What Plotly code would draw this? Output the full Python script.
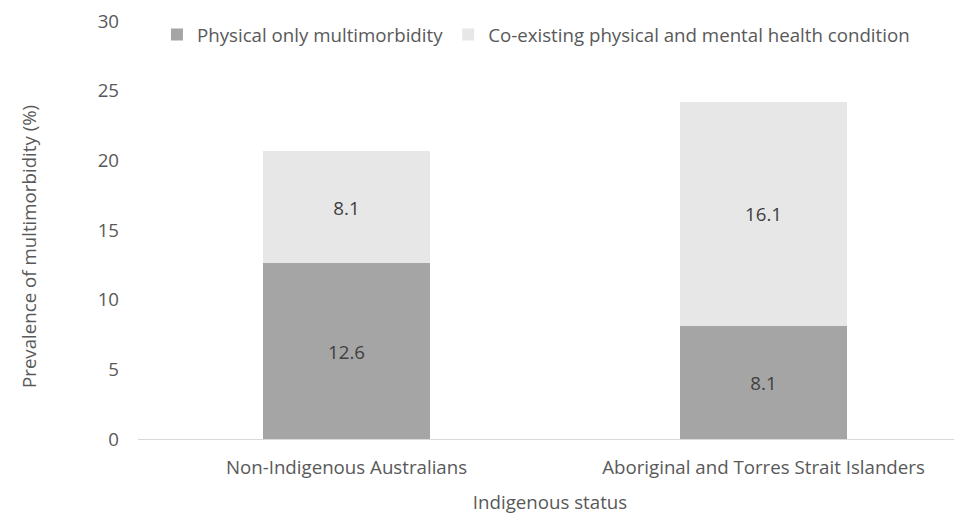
import plotly.graph_objects as go

categories = ["Non-Indigenous Australians", "Aboriginal and Torres Strait Islanders"]
physical_only = [12.6, 8.1]
coexisting = [8.1, 16.1]
y_ticks = [0, 5, 10, 15, 20, 25, 30]

FONT = "Open Sans"
FS = 18.7
TXT = "#595959"

fig = go.Figure()
fig.add_trace(go.Bar(
    x=categories, y=physical_only, name="Physical only multimorbidity",
    marker=dict(color="#A5A5A5", line=dict(width=0)),
    text=[f"{v:.1f}" for v in physical_only], textposition="inside",
    insidetextanchor="middle", textfont=dict(color="#404040", size=FS, family=FONT),
    width=0.4,
))
fig.add_trace(go.Bar(
    x=categories, y=coexisting, name="Co-existing physical and mental health condition",
    marker=dict(color="#E7E7E7", line=dict(width=0)),
    text=[f"{v:.1f}" for v in coexisting], textposition="inside",
    insidetextanchor="middle", textfont=dict(color="#404040", size=FS, family=FONT),
    width=0.4,
))

# page body has an 8px margin; compensate so the plot area lands at the same pixels
fig.update_layout(
    barmode="stack",
    width=954, height=512,
    margin=dict(l=130, r=0, t=13, b=81),
    paper_bgcolor="white", plot_bgcolor="white",
    font=dict(family=FONT, size=FS, color=TXT),
    legend=dict(orientation="h", x=0.023, xanchor="left", y=0.967, yanchor="middle",
                font=dict(size=FS, color=TXT, family=FONT), traceorder="normal",
                itemwidth=30, bgcolor="rgba(0,0,0,0)"),
    xaxis=dict(
        range=[-0.5, 1.476], showline=True, linecolor="#D9D9D9", linewidth=1,
        ticks="", showgrid=False, ticklabelstandoff=12,
        title=dict(text="Indigenous status", font=dict(size=FS, color=TXT, family=FONT), standoff=17),
        tickfont=dict(size=FS, color=TXT, family=FONT),
    ),
    yaxis=dict(
        range=[0, 30], tickvals=y_ticks, showgrid=False, zeroline=False,
        showline=False, ticks="", ticklabelstandoff=18, ticklabeloverflow="allow",
        tickfont=dict(size=FS, color=TXT, family=FONT),
    ),
    annotations=[dict(
        text="Prevalence of multimorbidity (%)", textangle=-90,
        xref="paper", yref="paper", x=(28 - 138) / 824, y=1 - (247 - 21) / 418,
        xanchor="center", yanchor="middle", showarrow=False,
        font=dict(size=FS, color=TXT, family=FONT),
    )],
)

fig.write_html("out.html")
